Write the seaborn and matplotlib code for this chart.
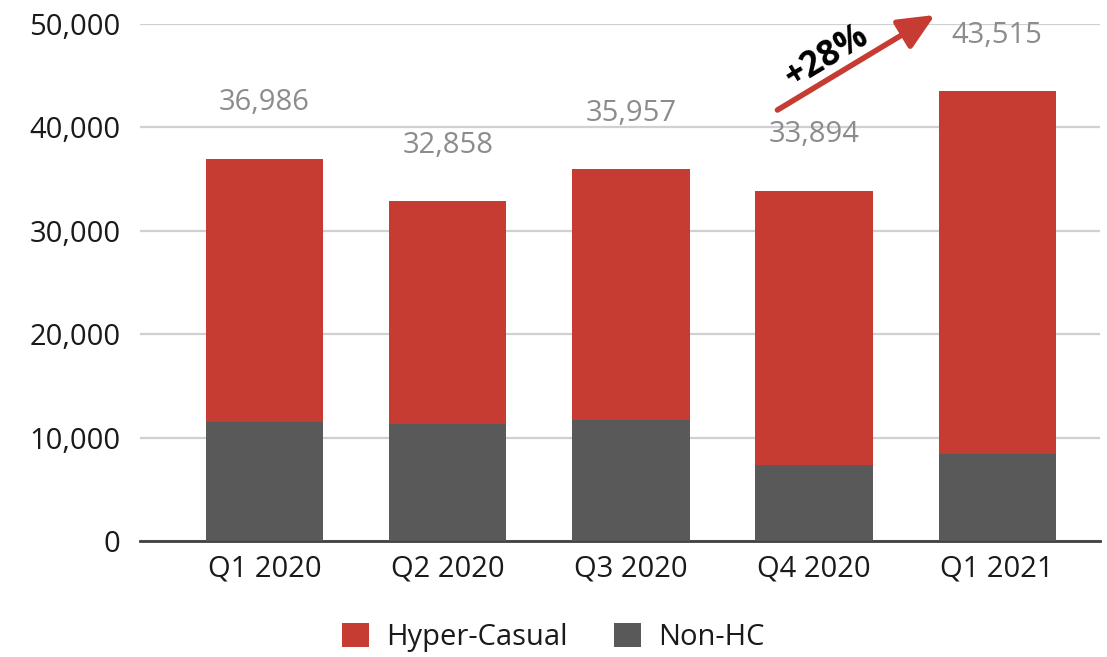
import matplotlib
matplotlib.use("Agg")
import matplotlib.pyplot as plt
from matplotlib.patches import Patch
import seaborn as sns
import pandas as pd

quarters = ["Q1 2020", "Q2 2020", "Q3 2020", "Q4 2020", "Q1 2021"]
totals = [36986, 32858, 35957, 33894, 43515]
non_hc = [11500, 11300, 11700, 7300, 8400]
series_names = ["Hyper-Casual", "Non-HC"]
growth_label = "+28%"

RED = "#C63C33"
GRAY = "#595959"

sns.set_theme(style="white")
plt.rcParams["font.family"] = ["Open Sans", "DejaVu Sans"]

df = pd.DataFrame({"quarter": quarters, "total": totals, "non_hc": non_hc})
df["hyper_casual"] = df["total"] - df["non_hc"]

fig = plt.figure(figsize=(11.07, 6.57), dpi=100)
ax = fig.add_axes([0.1265, 0.1766, 0.867, 0.7869])

# Stacked bars: full total in red, Non-HC portion drawn over it in gray
sns.barplot(data=df, x="quarter", y="total", color=RED, width=0.64,
            saturation=1, linewidth=0, ax=ax, zorder=2)
sns.barplot(data=df, x="quarter", y="non_hc", color=GRAY, width=0.64,
            saturation=1, linewidth=0, ax=ax, zorder=3)

ax.set_ylim(0, 50000)
ax.set_xlim(-0.68, 4.56)
ax.set_yticks(range(0, 50001, 10000))
ax.set_yticklabels([f"{v:,}" for v in range(0, 50001, 10000)])
ax.set_xlabel("")
ax.set_ylabel("")
ax.yaxis.grid(True, color="#d0d0d0", linewidth=1.6, zorder=0)
ax.set_axisbelow(True)
for s in ["top", "right", "left"]:
    ax.spines[s].set_visible(False)
ax.spines["bottom"].set_color("#404040")
ax.spines["bottom"].set_linewidth(2)
ax.spines["bottom"].set_zorder(1)
ax.tick_params(axis="both", length=0, labelsize=21, colors="#1a1a1a")
ax.tick_params(axis="y", pad=14)
ax.tick_params(axis="x", pad=10)

# Total labels above each bar
for i, t in enumerate(totals):
    ax.annotate(f"{t:,}", xy=(i, t), xytext=(0, 40), textcoords="offset points",
                ha="center", va="center", fontsize=21, color="#8c8c8c", zorder=5)

# Growth arrow from Q4 2020 to Q1 2021
ax.annotate("", xy=(3.66, 50870), xytext=(2.80, 41680),
            arrowprops=dict(arrowstyle="-|>,head_length=1.1,head_width=0.5",
                            mutation_scale=20, color=RED, lw=4,
                            shrinkA=0, shrinkB=0),
            annotation_clip=False, zorder=6)
ax.text(3.07, 46800, growth_label, rotation=31, ha="center", va="center",
        fontsize=25, fontweight="bold", color="black", zorder=7, clip_on=False)

handles = [Patch(facecolor=RED, edgecolor="none", label=series_names[0]),
           Patch(facecolor=GRAY, edgecolor="none", label=series_names[1])]
fig.legend(handles=handles, loc="center", bbox_to_anchor=(0.5, 0.03), ncol=2,
           frameon=False, fontsize=21, handlelength=0.9, handleheight=0.9,
           columnspacing=1.6, handletextpad=0.6, labelcolor="#1a1a1a")

fig.savefig("out.png", dpi=100, facecolor="white")
